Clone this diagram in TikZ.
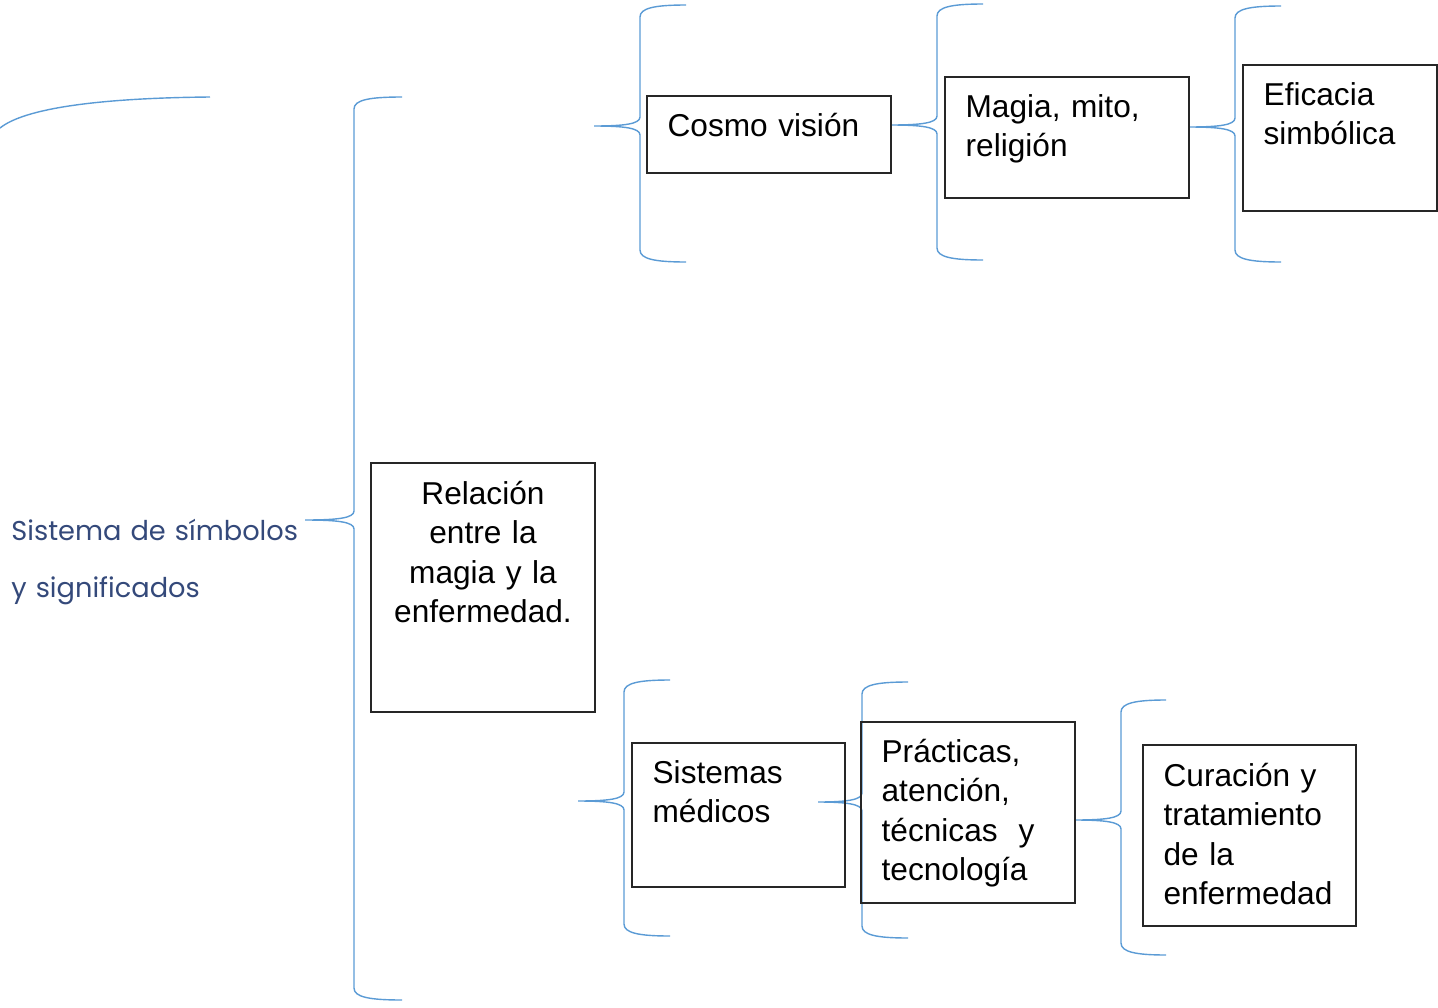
\documentclass[tikz,border=0pt]{standalone}
\usepackage{fontspec}
\setmainfont{Liberation Sans}
\newfontfamily\gothic{Poppins}
\usetikzlibrary{positioning,fit,calc}
\definecolor{azul}{HTML}{5B9BD5}
\definecolor{tinta}{HTML}{34497A}
% llave: nombre punta, x punta, y punta, x lomo, y arriba, y abajo, x extremos
\newcommand{\llave}[7]{%
  \coordinate (#1) at (#2,#3);
  \draw[llave] (#7,#5) .. controls ({#4+15},#5) and (#4,{#5+3}) .. (#4,{#5+12})
    -- (#4,{#3-9}) .. controls (#4,{#3-2}) and ({#4-16},#3) .. (#1)
    .. controls ({#4-16},#3) and (#4,{#3+2}) .. (#4,{#3+9})
    -- (#4,{#6-12}) .. controls (#4,{#6-3}) and ({#4+15},#6) .. (#7,#6);}

\begin{document}
\begin{tikzpicture}[x=0.02cm,y=-0.02cm,
    caja/.style={draw=black!85,line width=0.8pt,inner sep=0pt},
    texto/.style={anchor=base west,inner sep=0pt,align=left,text width=5cm,
      font=\fontsize{18}{22.4}\selectfont},
    llave/.style={draw=azul,line width=0.8pt},
    rotulo/.style={anchor=base west,inner sep=0pt,align=left,text width=7cm,
      text=tinta,font=\gothic\fontsize{15.5}{33}\selectfont}]
  \useasboundingbox (0,0) rectangle (1438,1008);

  \node[rotulo] (sistema) at (11,540) {Sistema de símbolos\\y significados};
  \coordinate (arcoA) at (0,128);
  \coordinate (arcoB) at (210,97);
  \draw[llave] (arcoA) .. controls (25,108) and (100,98) .. (arcoB);

  \llave{p1}{305}{520}{354}{97}{1000}{402}
  \llave{p2}{594}{126}{640}{5}{262}{686}
  \llave{p3}{891}{125}{937}{4}{260}{983}
  \llave{p4}{1189}{127}{1235}{6}{262}{1281}
  \llave{p5}{578}{801}{624}{680}{936}{670}
  \llave{p6}{818}{802}{862}{682}{938}{908}
  \llave{p7}{1075}{820}{1121}{700}{955}{1166}

  \node[caja, fit={(371,463) (595,712)}] (relacion) {};
  \node[caja, fit={(647,96) (891,173)}] (cosmo) {};
  \node[caja, fit={(945,77) (1189,198)}] (magia) {};
  \node[caja, fit={(1243,65) (1437,211)}] (eficacia) {};
  \node[caja, fit={(632,743) (845,887)}] (sistemas) {};
  \node[caja, fit={(861,722) (1075,903)}] (practicas) {};
  \node[caja, fit={(1143,745) (1356,926)}] (curacion) {};

  \node[texto, anchor=base, align=center, text width=4.48cm] (trelacion)
    at ($(relacion.north)+(0,42)$) {Relación\\entre la\\magia y la\\enfermedad.};
  \node[texto] (tcosmo) at ($(cosmo.north west)+(21,41)$) {Cosmo visión};
  \node[texto] (tmagia) at ($(magia.north west)+(21,41)$) {Magia, mito,\\religión};
  \node[texto] (teficacia) at ($(eficacia.north west)+(21,41)$) {Eficacia\\simbólica};
  \node[texto] (tsistemas) at ($(sistemas.north west)+(21,41)$) {Sistemas\\médicos};
  \node[texto] (tpracticas) at ($(practicas.north west)+(21,41)$)
    {Prácticas,\\atención,\\técnicas\ \ y\\tecnología};
  \node[texto] (tcuracion) at ($(curacion.north west)+(21,42)$)
    {Curación y\\tratamiento\\de la\\enfermedad};
\end{tikzpicture}
\end{document}
